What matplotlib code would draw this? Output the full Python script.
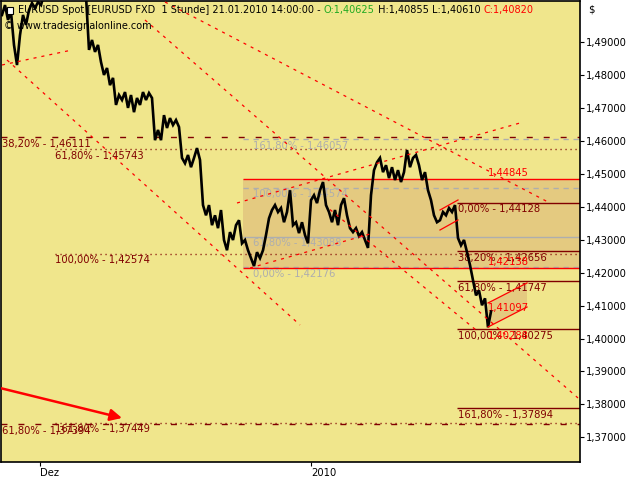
import matplotlib
matplotlib.use('Agg')
import matplotlib.pyplot as plt
from matplotlib.patches import Polygon, Rectangle, FancyArrowPatch
import numpy as np

plt.rcParams['font.family'] = ['DejaVu Sans']
plt.rcParams['lines.scale_dashes'] = False

BG = '#F0E68C'
MAROON = '#800000'
RED = '#FF0000'
GRAY = '#AEAEAE'
BOX = '#E4CA80'
FS = 7.2

# ---------------- data ----------------
STEP = 6  # hourly bars per sample
price = [
    1.4982, 1.5012, 1.4967, 1.4991, 1.4891, 1.4830, 1.4921, 1.4982, 1.4952, 1.4997,
    1.5018, 1.5003, 1.5021, 1.5012, 1.5045, 1.5070, 1.5090, 1.5060, 1.5100, 1.5080,
    1.5110, 1.5085, 1.5120, 1.5095, 1.5110, 1.5080, 1.5100, 1.5060, 1.5040, 1.4876,
    1.4906, 1.4870, 1.4891, 1.4839, 1.4800, 1.4821, 1.4769, 1.4791, 1.4709, 1.4739,
    1.4724, 1.4748, 1.4700, 1.4739, 1.4687, 1.4730, 1.4709, 1.4748, 1.4724, 1.4745,
    1.4730, 1.4602, 1.4633, 1.4602, 1.4678, 1.4639, 1.4669, 1.4648, 1.4663, 1.4642,
    1.4548, 1.4532, 1.4557, 1.4520, 1.4548, 1.4578, 1.4542, 1.4405, 1.4374, 1.4405,
    1.4344, 1.4374, 1.4335, 1.4390, 1.4299, 1.4268, 1.4323, 1.4299, 1.4344, 1.4359,
    1.4289, 1.4299, 1.4268, 1.4244, 1.4220, 1.4262, 1.4244, 1.4268, 1.4314, 1.4365,
    1.4390, 1.4405, 1.4384, 1.4396, 1.4353, 1.4384, 1.4450, 1.4344, 1.4353, 1.4320,
    1.4353, 1.4314, 1.4289, 1.4420, 1.4435, 1.4411, 1.4450, 1.4475, 1.4405, 1.4384,
    1.4353, 1.4390, 1.4344, 1.4405, 1.4426, 1.4374, 1.4335, 1.4323, 1.4335, 1.4311,
    1.4323, 1.4299, 1.4275, 1.4435, 1.4511, 1.4535, 1.4548, 1.4505, 1.4526, 1.4487,
    1.4520, 1.4481, 1.4511, 1.4475, 1.4505, 1.4572, 1.4520, 1.4548, 1.4557, 1.4526,
    1.4481, 1.4505, 1.4450, 1.4420, 1.4374, 1.4353, 1.4359, 1.4384, 1.4374, 1.4396,
    1.4384, 1.4405, 1.4305, 1.4283, 1.4299, 1.4262, 1.4223, 1.4177, 1.4131, 1.4146,
    1.4101, 1.4122, 1.4034, 1.4082,
]
bars = np.arange(len(price)) * STEP

x_ticks = [76, 618]
x_ticklabels = ['Dez', '2010']
y_ticks = [1.37, 1.38, 1.39, 1.40, 1.41, 1.42, 1.43, 1.44, 1.45, 1.46, 1.47, 1.48, 1.49]
y_ticklabels = ['1,37000', '1,38000', '1,39000', '1,40000', '1,41000', '1,42000', '1,43000',
                '1,44000', '1,45000', '1,46000', '1,47000', '1,48000', '1,49000']

# Fibonacci set 1 (maroon dashed, full width)
fib1_levels = [1.46111, 1.37396]
fib1_labels = ['38,20% - 1,46111', '61,80% - 1,37394']
fib1_start = -2
# Fibonacci set 2 (maroon dotted)
fib2_levels = [1.45743, 1.42574, 1.37449]
fib2_labels = ['61,80% - 1,45743', '100,00% - 1,42574', '161,80% - 1,37449']
fib2_start = 106
# Fibonacci set 3 (gray)
fib3_levels = [1.46057, 1.44575, 1.43088, 1.42176]
fib3_labels = ['161,80% - 1,46057', '100,00% - 1,44574', '61,80% - 1,43088', '0,00% - 1,42176']
fib3_styles = ['dashed', 'dashed', 'solid', 'dashed']
fib3_start = 482
fib3_label_x = 502
# Fibonacci set 4 (maroon solid)
fib4_levels = [1.44128, 1.42656, 1.41747, 1.40275, 1.37894]
fib4_labels = ['0,00% - 1,44128', '38,20% - 1,42656', '61,80% - 1,41747',
               '100,00% - 1,40275', '161,80% - 1,37894']
fib4_start = 910
# Red horizontal lines (box)
red_levels = [1.44845, 1.42138]
red_labels = ['1,44845', '1,42138']
red_start = 482
red_label_x = 972
# other red labels
red_text_pos = [(972, 1.40927, '1,41097'), (972, 1.40077, '1,40288')]
# dashed trend lines (bar, price) pairs
trend_lines = [
    ((0, 1.48302), (140, 1.48757)),
    ((10, 1.48454), (596, 1.40411)),
    ((286, 1.49668), (1152, 1.38196)),
    ((326, 1.50214), (1092, 1.44144)),
    ((470, 1.44114), (1036, 1.46542)),
    ((496, 1.42141), (736, 1.43173)),
    ((656, 1.43915), (952, 1.40209)),
]
# small channels: (x0, x1, upper0, upper1, lower0, lower1)
channels = [
    (876, 912, 1.43901, 1.44205, 1.43294, 1.43598),
    (972, 1050, 1.41079, 1.41686, 1.40350, 1.40957),
]
arrow_start = (-4, 1.38499)
arrow_end = (240, 1.37589)

XMIN, XMAX = -2, 1156
YMIN, YMAX = 1.36253, 1.50244

# ---------------- figure ----------------
fig = plt.figure(figsize=(6.4, 4.8), dpi=100, facecolor='white')
ax = fig.add_axes([1 / 640, 18 / 480, 579 / 640, 461 / 480])
ax.set_facecolor(BG)
ax.set_xlim(XMIN, XMAX)
ax.set_ylim(YMIN, YMAX)
for s in ax.spines.values():
    s.set_color('black')
    s.set_linewidth(1.2)

# box
ax.fill_between([red_start, XMAX], red_levels[1], red_levels[0], color=BOX, zorder=1, lw=0)

DASH_LONG = (0, (4.3, 7.9))
DOT = (0, (0.8, 2.8))
GDASH = (0, (3.8, 3.4))
RDASH = (0, (2.2, 3.6))

def label_below(x, y, txt, color):
    ax.annotate(txt, (x, y), xytext=(0, -1.2), textcoords='offset points',
                va='top', ha='left', fontsize=FS, color=color, zorder=3)

for lv, lb in zip(fib1_levels, fib1_labels):
    ax.hlines(lv, fib1_start, XMAX, colors=MAROON, linestyles=DASH_LONG, lw=1.0, zorder=2)
    label_below(fib1_start + 2, lv, lb, MAROON)

for lv, lb in zip(fib2_levels, fib2_labels):
    ax.hlines(lv, fib2_start, XMAX, colors=MAROON, linestyles=DOT, lw=1.0, zorder=2)
    label_below(fib2_start, lv, lb, MAROON)

for lv, lb, st in zip(fib3_levels, fib3_labels, fib3_styles):
    ls = GDASH if st == 'dashed' else '-'
    ax.hlines(lv, fib3_start, XMAX, colors=GRAY, linestyles=ls, lw=1.0, zorder=2)
    label_below(fib3_label_x, lv, lb, GRAY)

for lv, lb in zip(fib4_levels, fib4_labels):
    ax.hlines(lv, fib4_start, XMAX, colors=MAROON, linestyles='-', lw=1.0, zorder=2)
    label_below(fib4_start + 2, lv, lb, MAROON)

for lv, lb in zip(red_levels, red_labels):
    ax.hlines(lv, red_start, XMAX, colors=RED, linestyles='-', lw=1.0, zorder=2)
    ax.annotate(lb, (red_label_x, lv), xytext=(0, 0.5), textcoords='offset points',
                va='bottom', ha='left', fontsize=FS, color=RED, zorder=3)

for x, y, t in red_text_pos:
    ax.text(x, y, t, va='center', ha='left', fontsize=FS, color=RED, zorder=3)

for (x0, y0), (x1, y1) in trend_lines:
    ax.plot([x0, x1], [y0, y1], color=RED, ls=RDASH, lw=0.9, zorder=5)

for x0, x1, u0, u1, l0, l1 in channels:
    ax.add_patch(Polygon([(x0, u0), (x1, u1), (x1, l1), (x0, l0)], closed=True,
                         facecolor=BOX, edgecolor='none', zorder=1.5))
    ax.plot([x0, x1], [u0, u1], color=RED, lw=0.9, zorder=5)
    ax.plot([x0, x1], [l0, l1], color=RED, lw=0.9, zorder=5)

ax.add_patch(FancyArrowPatch(arrow_start, arrow_end, arrowstyle='-|>,head_length=7,head_width=3.5',
                             color=RED, lw=1.8, zorder=5, shrinkA=0, shrinkB=0))

# price
ax.plot(bars, price, color='black', lw=1.9, zorder=4, solid_joinstyle='miter')

# ticks
ax.yaxis.tick_right()
ax.set_yticks(y_ticks)
ax.set_yticklabels(y_ticklabels, fontsize=FS)
ax.tick_params(axis='y', length=3, width=0.8, pad=1.5, colors='black')
ax.set_xticks(x_ticks)
ax.set_xticklabels(x_ticklabels, fontsize=FS, ha='left')
ax.tick_params(axis='x', length=3, width=0.8, pad=1.0)

# header
HFS = 7.0
ax.add_patch(Rectangle((6 / 579, 1 - 13 / 461), 6 / 579, 7 / 461, transform=ax.transAxes,
                       facecolor='white', edgecolor='black', lw=0.8, zorder=6))
t1 = ax.text(17 / 579, 1 - 9 / 461, 'EURUSD Spot [EURUSD FXD  1 Stunde] 21.01.2010 14:00:00 - ',
             transform=ax.transAxes, va='center', ha='left', fontsize=HFS, color='black', zorder=6)
t2 = ax.annotate('O:1,40625', xy=(1, 0), xycoords=t1, va='bottom', ha='left',
                 fontsize=HFS, color='#22AA22', zorder=6)
t3 = ax.annotate(' H:1,40855 L:1,40610 ', xy=(1, 0), xycoords=t2, va='bottom', ha='left',
                 fontsize=HFS, color='black', zorder=6)
t4 = ax.annotate('C:1,40820', xy=(1, 0), xycoords=t3, va='bottom', ha='left',
                 fontsize=HFS, color=RED, zorder=6)
ax.text(3 / 579, 1 - 25 / 461, '\u00a9 www.tradesignalonline.com', transform=ax.transAxes,
        va='center', ha='left', fontsize=HFS, color='black', zorder=6)
fig.text(588 / 640, 1 - 10 / 480, '$', fontsize=FS, va='center', ha='left')

fig.savefig('out.png', dpi=100, facecolor='white')
